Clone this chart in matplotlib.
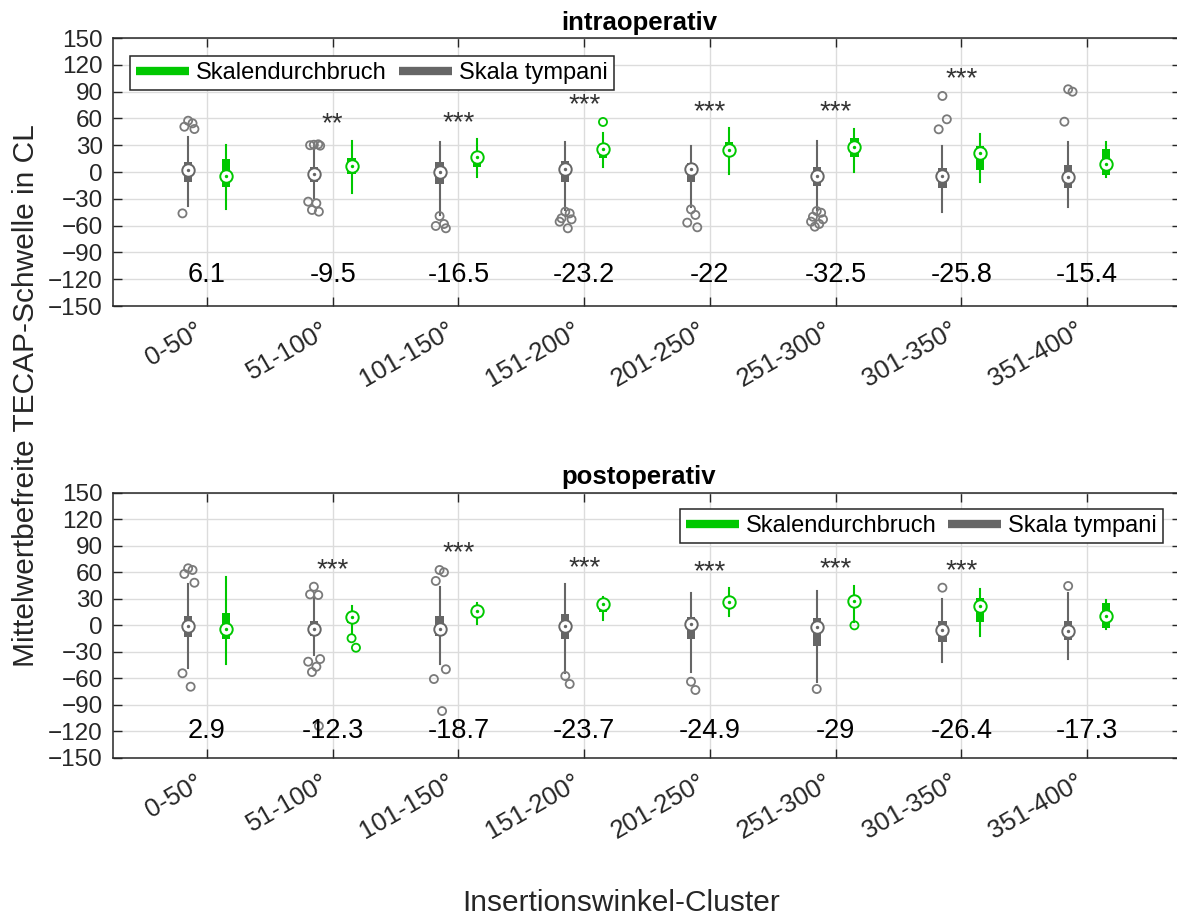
import matplotlib
matplotlib.use("Agg")
import matplotlib.pyplot as plt
from matplotlib.lines import Line2D
import numpy as np

plt.rcParams['font.family'] = ['Liberation Sans', 'DejaVu Sans']

# ---------------- data ----------------
categories = ["0-50°", "51-100°", "101-150°", "151-200°", "201-250°", "251-300°", "301-350°", "351-400°"]
yticks = [150, 120, 90, 60, 30, 0, -30, -60, -90, -120, -150]

# intraoperativ - Skala tympani (gray)
intra_st_whislo = [-37.7, -29.5, -48.1, -42.5, -38.8, -42.5, -44.4, -39.5]
intra_st_q1     = [-10.8, -10.8, -13.4, -10.8, -10.8, -15.3, -18.3, -18.3]
intra_st_med    = [2.2, -2.2, 0.4, 3.0, 3.0, -4.5, -4.1, -6.0]
intra_st_q3     = [10.8, 5.2, 10.8, 12.3, 9.7, 5.2, 4.8, 7.8]
intra_st_whishi = [39.5, 26.5, 33.2, 33.2, 29.1, 35.0, 29.1, 33.2]
intra_st_fliers = [[57.4, 54.5, 50.7, 48.1, -46.3],
                   [30.5, 31.0, 30.0, 29.5, -33.2, -35.0, -42.5, -44.4],
                   [-49.3, -58.2, -60.4, -63.0],
                   [-44.4, -46.3, -51.8, -53.0, -55.6, -63.0],
                   [-41.8, -48.1, -56.7, -61.9],
                   [-43.7, -45.6, -50.1, -53.0, -55.6, -58.2, -61.2],
                   [85.1, 59.0, 47.8],
                   [92.6, 89.9, 56.3]]

# intraoperativ - Skalendurchbruch (green)
intra_sd_whislo = [-41.4, -23.2, -5.2, 6.0, -2.2, 0.4, -11.2, -6.0]
intra_sd_q1     = [-17.2, -2.2, 6.0, 16.0, 20.9, 16.4, 2.2, -3.4]
intra_sd_med    = [-4.5, 7.0, 16.8, 26.1, 24.6, 27.6, 20.9, 9.0]
intra_sd_q3     = [14.2, 15.7, 22.8, 30.2, 33.9, 37.7, 29.1, 25.7]
intra_sd_whishi = [30.2, 35.0, 36.6, 44.0, 48.9, 48.5, 42.5, 33.2]
intra_sd_fliers = [[], [], [], [56.0], [], [], [], []]

# postoperativ - Skala tympani (gray)
post_st_whislo = [-48.6, -33.5, -43.7, -53.5, -52.4, -63.7, -41.1, -38.4]
post_st_q1     = [-13.5, -11.7, -11.7, -15.4, -15.4, -23.0, -18.5, -16.6]
post_st_med    = [-0.7, -3.8, -3.8, -0.4, 1.5, -2.2, -5.3, -6.4]
post_st_q3     = [10.6, 4.9, 10.6, 12.8, 9.8, 8.0, 4.9, 5.3]
post_st_whishi = [46.8, 30.6, 43.0, 46.4, 36.9, 38.8, 29.5, 36.9]
post_st_fliers = [[64.5, 62.6, 58.1, 48.2, -54.2, -69.4],
                  [43.7, 34.3, 35.0, -38.1, -41.1, -46.8, -52.8, -113.8],
                  [62.6, 60.0, 50.2, -49.7, -60.7, -96.9],
                  [-57.3, -66.3],
                  [-63.7, -73.1],
                  [-72.0],
                  [42.6],
                  [44.5]]

# postoperativ - Skalendurchbruch (green)
post_sd_whislo = [-44.0, -9.0, 1.5, 6.0, 10.6, 4.0, -12.0, -4.5]
post_sd_q1     = [-15.8, 3.0, 12.0, 15.1, 20.0, 21.1, 4.1, -2.7]
post_sd_med    = [-3.8, 9.1, 16.2, 23.8, 26.4, 27.2, 21.9, 10.9]
post_sd_q3     = [14.3, 12.0, 20.0, 28.7, 31.7, 33.5, 31.3, 24.9]
post_sd_whishi = [54.3, 21.9, 24.9, 32.4, 41.9, 44.5, 40.8, 28.7]
post_sd_fliers = [[], [-14.6, -25.3], [], [], [], [0.0], [], []]

intra_diff = [6.1, -9.5, -16.5, -23.2, -22, -32.5, -25.8, -15.4]
post_diff = [2.9, -12.3, -18.7, -23.7, -24.9, -29, -26.4, -17.3]
intra_sig = ["", "**", "***", "***", "***", "***", "***", ""]
post_sig = ["", "***", "***", "***", "***", "***", "***", ""]

# ---------------- style ----------------
GREEN = '#00c800'
GRAY = '#666666'
FLIER_GRAY = '#7a7a7a'
AXC = '#262626'
W, H = 1177, 919

fig = plt.figure(figsize=(W / 100, H / 100), dpi=100)

def px_axes(left, top, right, bottom):
    return [left / W, 1 - bottom / H, (right - left) / W, (bottom - top) / H]

jitter = [0.0, 0.035, -0.03, 0.05, -0.045, 0.02, -0.015, 0.04]


def draw_series(ax, pos, whislo, q1, med, q3, whishi, fliers, color, fcolor):
    stats = []
    for i in range(len(pos)):
        stats.append(dict(med=med[i], q1=q1[i], q3=q3[i], whislo=whislo[i],
                          whishi=whishi[i], fliers=[]))
    ax.bxp(stats, positions=pos, widths=0.066, patch_artist=True,
           showcaps=False, showfliers=False, manage_ticks=False,
           boxprops=dict(facecolor=color, edgecolor='none', linewidth=0),
           whiskerprops=dict(color=color, linewidth=1.5),
           medianprops=dict(linewidth=0))
    for i, p in enumerate(pos):
        fl = fliers[i]
        if fl:
            xs = [p + jitter[k % len(jitter)] for k in range(len(fl))]
            ax.scatter(xs, fl, s=34, facecolor='none', edgecolor=fcolor,
                       linewidth=1.3, zorder=3)
    ax.scatter(pos, med, s=80, facecolor='white', edgecolor=color,
               linewidth=1.4, zorder=4)
    ax.scatter(pos, med, s=6, color=color, zorder=5, linewidth=0)


def panel(ax, title, st, sd, diff, sig, diff_y, leg_kw):
    x = np.arange(1, len(categories) + 1)
    draw_series(ax, x - 0.15, *st, GRAY, FLIER_GRAY)
    draw_series(ax, x + 0.15, *sd, GREEN, GREEN)
    for i, xi in enumerate(x):
        ax.text(xi, diff_y, f"{diff[i]:g}", ha='center', va='center',
                fontsize=19.5, color='black')
        if sig[i]:
            tops = [st[4][i], sd[4][i]] + list(st[5][i]) + list(sd[5][i])
            ax.annotate(sig[i], (xi, max(tops) + 20), xytext=(0, -0.3 * 20),
                        textcoords='offset points', ha='center', va='baseline',
                        fontsize=20, color='#333333')
    ax.set_xlim(0.25, 8.75)
    ax.set_ylim(-150, 150)
    ax.set_yticks(yticks)
    ax.set_xticks(x)
    ax.set_xticklabels(categories, rotation=30, ha='right', fontsize=18.5)
    ax.tick_params(axis='y', labelsize=17.5, pad=7)
    ax.tick_params(axis='x', pad=9)
    ax.tick_params(direction='in', length=6.5, width=1.0, colors=AXC,
                   top=True, right=True)
    ax.grid(True, color='#dcdcdc', linewidth=1.0)
    ax.set_axisbelow(True)
    for s in ax.spines.values():
        s.set_color(AXC)
        s.set_linewidth(1.1)
    ax.set_title(title, fontweight='bold', fontsize=18.5, pad=6, x=0.4925)
    handles = [Line2D([], [], color=GREEN, lw=6, solid_capstyle='butt'),
               Line2D([], [], color=GRAY, lw=6, solid_capstyle='butt')]
    leg = ax.legend(handles, ["Skalendurchbruch", "Skala tympani"], ncol=2,
                    fontsize=17, handlelength=2.25, handletextpad=0.3,
                    columnspacing=0.5, borderpad=0.25, borderaxespad=0,
                    fancybox=False, framealpha=1, edgecolor=AXC, **leg_kw)
    leg.get_frame().set_linewidth(1.1)


ax1 = fig.add_axes(px_axes(112.7, 38, 1181.3, 306))
ax2 = fig.add_axes(px_axes(112.7, 492.7, 1181.3, 758))

panel(ax1, "intraoperativ",
      (intra_st_whislo, intra_st_q1, intra_st_med, intra_st_q3, intra_st_whishi, intra_st_fliers),
      (intra_sd_whislo, intra_sd_q1, intra_sd_med, intra_sd_q3, intra_sd_whishi, intra_sd_fliers),
      intra_diff, intra_sig, -115,
      dict(loc='upper left', bbox_to_anchor=(0.0162, 0.933)))
panel(ax2, "postoperativ",
      (post_st_whislo, post_st_q1, post_st_med, post_st_q3, post_st_whishi, post_st_fliers),
      (post_sd_whislo, post_sd_q1, post_sd_med, post_sd_q3, post_sd_whishi, post_sd_fliers),
      post_diff, post_sig, -120,
      dict(loc='upper right', bbox_to_anchor=(0.983, 0.9374)))

fig.text(26 / W, 1 - 395.5 / H, "Mittelwertbefreite TECAP-Schwelle in CL",
         rotation=90, ha='center', va='center', fontsize=21.5, color=AXC)
fig.text(621 / W, 1 - 903 / H, "Insertionswinkel-Cluster",
         ha='center', va='center', fontsize=21.5, color=AXC)

fig.savefig("out.png", dpi=100)
